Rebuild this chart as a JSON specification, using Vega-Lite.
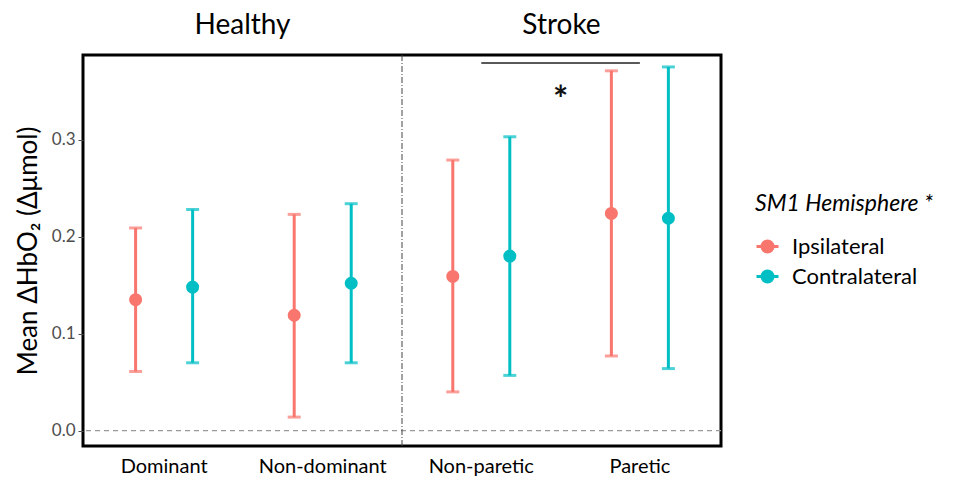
{
  "$schema": "https://vega.github.io/schema/vega-lite/v6.json",
  "width": 638,
  "height": 391,
  "autosize": {"type": "none"},
  "padding": {"left": 83, "top": 55, "right": 240, "bottom": 36},
  "background": "white",
  "config": {"font": "Lato", "view": {"stroke": "black", "strokeWidth": 3}},
  "datasets": {
    "means": [
      {"side": "Dominant", "group": "Healthy", "hemisphere": "Ipsilateral", "mean": 0.135, "lower": 0.061, "upper": 0.209},
      {"side": "Dominant", "group": "Healthy", "hemisphere": "Contralateral", "mean": 0.148, "lower": 0.070, "upper": 0.228},
      {"side": "Non-dominant", "group": "Healthy", "hemisphere": "Ipsilateral", "mean": 0.119, "lower": 0.014, "upper": 0.223},
      {"side": "Non-dominant", "group": "Healthy", "hemisphere": "Contralateral", "mean": 0.152, "lower": 0.070, "upper": 0.234},
      {"side": "Non-paretic", "group": "Stroke", "hemisphere": "Ipsilateral", "mean": 0.159, "lower": 0.040, "upper": 0.279},
      {"side": "Non-paretic", "group": "Stroke", "hemisphere": "Contralateral", "mean": 0.180, "lower": 0.057, "upper": 0.303},
      {"side": "Paretic", "group": "Stroke", "hemisphere": "Ipsilateral", "mean": 0.224, "lower": 0.077, "upper": 0.371},
      {"side": "Paretic", "group": "Stroke", "hemisphere": "Contralateral", "mean": 0.219, "lower": 0.064, "upper": 0.375}
    ]
  },
  "resolve": {"scale": {"x": "independent"}, "axis": {"x": "independent"}},
  "layer": [
    {
      "layer": [
        {
          "data": {"values": [{"zero": 0}]},
          "mark": {"type": "rule", "color": "#9a9a9a", "strokeDash": [5, 4], "strokeWidth": 1.3},
          "encoding": {
            "y": {"field": "zero", "type": "quantitative", "scale": {"domain": [-0.0158, 0.3873], "nice": false, "zero": false},
              "axis": {"title": "Mean ΔHbO₂ (Δμmol)", "titleFontSize": 26, "titleFontWeight": "normal", "titleColor": "black", "titlePadding": 10,
                "labelFontSize": 17, "labelColor": "#4d4d4d", "tickColor": "#4d4d4d", "tickSize": 5, "labelPadding": 3,
                "grid": false, "domain": false, "values": [0, 0.1, 0.2, 0.3], "format": ".1f"}}
          }
        },
        {
          "data": {"name": "means"},
          "mark": {"type": "rule", "strokeWidth": 3},
          "encoding": {
            "x": {"field": "side", "type": "nominal", "sort": ["Dominant", "Non-dominant", "Non-paretic", "Paretic"],
              "scale": {"paddingInner": 0.281, "paddingOuter": 0.152},
              "axis": {"orient": "bottom", "title": null, "labelFontSize": 20, "labelColor": "black", "labelAngle": 0, "ticks": false, "domain": false, "labelPadding": 10}},
            "xOffset": {"field": "hemisphere", "type": "nominal", "sort": ["Ipsilateral", "Contralateral"]},
            "y": {"field": "lower", "type": "quantitative", "scale": {"domain": [-0.0158, 0.3873], "nice": false, "zero": false}},
            "y2": {"field": "upper"},
            "color": {"field": "hemisphere", "type": "nominal", "sort": ["Ipsilateral", "Contralateral"],
              "scale": {"domain": ["Ipsilateral", "Contralateral"], "range": ["#F8766D", "#00BFC4"]}}
          }
        },
        {
          "data": {"name": "means"},
          "mark": {"type": "tick", "size": 13, "thickness": 3, "orient": "horizontal"},
          "encoding": {
            "x": {"field": "side", "type": "nominal", "sort": ["Dominant", "Non-dominant", "Non-paretic", "Paretic"]},
            "xOffset": {"field": "hemisphere", "type": "nominal", "sort": ["Ipsilateral", "Contralateral"]},
            "y": {"field": "upper", "type": "quantitative", "scale": {"domain": [-0.0158, 0.3873], "nice": false, "zero": false}},
            "color": {"field": "hemisphere", "type": "nominal"}
          }
        },
        {
          "data": {"name": "means"},
          "mark": {"type": "tick", "size": 13, "thickness": 3, "orient": "horizontal"},
          "encoding": {
            "x": {"field": "side", "type": "nominal", "sort": ["Dominant", "Non-dominant", "Non-paretic", "Paretic"]},
            "xOffset": {"field": "hemisphere", "type": "nominal", "sort": ["Ipsilateral", "Contralateral"]},
            "y": {"field": "lower", "type": "quantitative", "scale": {"domain": [-0.0158, 0.3873], "nice": false, "zero": false}},
            "color": {"field": "hemisphere", "type": "nominal"}
          }
        },
        {
          "data": {"name": "means"},
          "mark": {"type": "point", "filled": true, "opacity": 1, "size": 170},
          "encoding": {
            "x": {"field": "side", "type": "nominal", "sort": ["Dominant", "Non-dominant", "Non-paretic", "Paretic"]},
            "xOffset": {"field": "hemisphere", "type": "nominal", "sort": ["Ipsilateral", "Contralateral"]},
            "y": {"field": "mean", "type": "quantitative", "scale": {"domain": [-0.0158, 0.3873], "nice": false, "zero": false}},
            "color": {"field": "hemisphere", "type": "nominal",
              "legend": {"orient": "none", "legendX": 672, "legendY": 138, "title": "SM1 Hemisphere *",
                "titleFontSize": 23, "titleFontStyle": "italic", "titleFontWeight": "normal", "titleColor": "black", "titlePadding": 18, "titleLimit": 400,
                "labelFontSize": 22, "labelColor": "black", "labelOffset": 12, "rowPadding": 6,
                "symbolType": "M-1,0H1M-0.5,0A0.5,0.5,0,1,1,0.5,0A0.5,0.5,0,1,1,-0.5,0Z", "symbolSize": 484, "symbolStrokeWidth": 3, "symbolOpacity": 1,
                "encode": {"symbols": {"update": {"stroke": {"scale": "color", "field": "value"}, "fill": {"scale": "color", "field": "value"}, "opacity": {"value": 1}, "fillOpacity": {"value": 1}, "strokeOpacity": {"value": 1}}}}}}
          }
        },
        {
          "data": {"values": [{"from": "Non-paretic", "to": "Paretic", "level": 0.379}]},
          "mark": {"type": "rule", "color": "#222222", "strokeWidth": 1.5},
          "encoding": {
            "x": {"field": "from", "type": "nominal", "sort": ["Dominant", "Non-dominant", "Non-paretic", "Paretic"]},
            "x2": {"field": "to"},
            "y": {"field": "level", "type": "quantitative", "scale": {"domain": [-0.0158, 0.3873], "nice": false, "zero": false}}
          }
        },
        {
          "data": {"values": [{"side": "Non-paretic", "level": 0.35, "label": "*"}]},
          "mark": {"type": "text", "fontSize": 36, "fontWeight": "bold", "color": "#111111", "baseline": "middle", "dy": 10},
          "encoding": {
            "x": {"field": "side", "type": "nominal", "sort": ["Dominant", "Non-dominant", "Non-paretic", "Paretic"], "bandPosition": 1.196},
            "y": {"field": "level", "type": "quantitative", "scale": {"domain": [-0.0158, 0.3873], "nice": false, "zero": false}},
            "text": {"field": "label"}
          }
        }
      ]
    },
    {
      "data": {"values": [{"group": "Stroke"}]},
      "mark": {"type": "rule", "color": "#444444", "strokeWidth": 1, "strokeDash": [6, 2, 1, 2]},
      "encoding": {
        "x": {"field": "group", "type": "nominal", "bandPosition": 0,
          "scale": {"domain": ["Healthy", "Stroke"], "paddingInner": 0, "paddingOuter": -0.03},
          "axis": {"orient": "top", "title": null, "labelFontSize": 28, "labelColor": "black", "labelAngle": 0, "ticks": false, "domain": false, "labelPadding": 16}}
      }
    }
  ]
}
